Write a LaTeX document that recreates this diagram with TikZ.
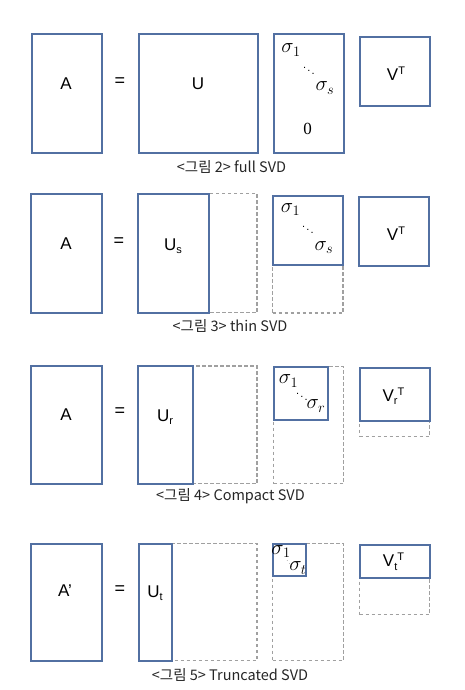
\documentclass[tikz,border=0pt]{standalone}
\usepackage{fontspec}
\setmainfont{Liberation Sans}
\newfontfamily\krfont{Noto Sans CJK KR}
\newfontfamily\serifnum{Liberation Serif}
\usetikzlibrary{fit}
\definecolor{boxblue}{RGB}{82,112,162}
\definecolor{dashgray}{RGB}{160,160,160}
\newcommand{\smallidx}[1]{{\fontsize{11}{11}\selectfont #1}}
\tikzset{
  solidbox/.style={draw=boxblue, line width=2pt, inner sep=0pt, fill=none},
  dashbox/.style={draw=dashgray, line width=1.2pt, dash pattern=on 3.5pt off 2.5pt, inner sep=0pt},
  lbl/.style={font=\fontsize{17}{19}\selectfont, inner sep=0pt},
  sig/.style={font=\fontsize{21.5}{23}\selectfont, inner sep=0pt},
  sigsm/.style={font=\fontsize{19.5}{21}\selectfont, inner sep=0pt},
  dts/.style={font=\fontsize{11}{11}\selectfont, inner sep=0pt},
  eqs/.style={font=\fontsize{18}{20}\selectfont, inner sep=0pt},
  captxt/.style={font=\krfont\fontsize{14.5}{16}\selectfont, inner sep=0pt, text=black!85},
}
\begin{document}
\begin{tikzpicture}[x=1pt,y=-1pt]
\useasboundingbox (0,0) rectangle (465,690);
% ---------- Row 1: full SVD
\node[solidbox, fit={(31.5,34.5) (101.5,152.5)}] (A1) {};
\node[solidbox, fit={(139,34.5) (257.5,152.5)}] (U1) {};
\node[solidbox, fit={(273.5,34.5) (344,152.5)}] (S1) {};
\node[solidbox, fit={(359.5,37) (429.5,106.5)}] (V1) {};
\node[lbl] (tA1) at (66,84) {A};
\node[eqs] (eq1) at (120,82) {=};
\node[lbl] (tU1) at (198,84) {U};
\node[sig] (s11) at (291,50) {$\sigma_1$};
\node[dts] (d1) at (309,68) {$\ddots$};
\node[sig] (s1s) at (325,88) {$\sigma_s$};
\node[font=\serifnum\fontsize{17}{19}\selectfont, inner sep=0pt] (z1) at (307.5,129) {0};
\node[lbl] (tV1) at (396,74) {V\raisebox{6pt}{\smallidx{T}}};
\node[captxt] (c1) at (231.5,166.5) {<그림 2> full SVD};
% ---------- Row 2: thin SVD
\node[solidbox, fit={(31,193.5) (101.5,312.5)}] (A2) {};
\node[dashbox, fit={(138,193.5) (257,312.5)}] (U2d) {};
\node[solidbox, fit={(138,193.5) (208.5,312.5)}] (U2) {};
\node[dashbox, fit={(272.5,195.5) (343,313)}] (S2d) {};
\node[solidbox, fit={(272.5,195.5) (343,265)}] (S2) {};
\node[solidbox, fit={(358.5,196.5) (429,266)}] (V2) {};
\node[lbl] (tA2) at (66,244) {A};
\node[eqs] (eq2) at (119,242) {=};
\node[lbl] (tU2) at (173,246) {U\raisebox{-3pt}{\smallidx{s}}};
\node[sig] (s21) at (290.5,209.5) {$\sigma_1$};
\node[dts] (d2) at (308,227) {$\ddots$};
\node[sig] (s2s) at (324,247.5) {$\sigma_s$};
\node[lbl] (tV2) at (396,234) {V\raisebox{6pt}{\smallidx{T}}};
\node[captxt] (c2) at (230,326) {<그림 3> thin SVD};
% ---------- Row 3: Compact SVD
\node[solidbox, fit={(31,366) (101.5,483.5)}] (A3) {};
\node[dashbox, fit={(138,366) (257,483.5)}] (U3d) {};
\node[solidbox, fit={(138,366) (192.5,483.5)}] (U3) {};
\node[dashbox, fit={(273.5,366.5) (343.5,483.5)}] (S3d) {};
\node[solidbox, fit={(273.5,366.5) (327.5,419.5)}] (S3) {};
\node[dashbox, fit={(359.5,368) (429.5,436.5)}] (V3d) {};
\node[solidbox, fit={(359.5,368) (429.5,421)}] (V3) {};
\node[lbl] (tA3) at (66,415) {A};
\node[eqs] (eq3) at (120,412) {=};
\node[lbl] (tU3) at (165,417) {U\raisebox{-3.5pt}{\smallidx{r}}};
\node[sig] (s31) at (288.5,381) {$\sigma_1$};
\node[dts] (d3) at (302,394) {$\ddots$};
\node[sig] (s3r) at (316,406) {$\sigma_r$};
\node[lbl] (tV3) at (393.5,396) {V\raisebox{-3.5pt}{\smallidx{r}}\raisebox{6pt}{\smallidx{T}}};
\node[captxt] (c3) at (230.5,496) {<그림 4> Compact SVD};
% ---------- Row 4: Truncated SVD
\node[solidbox, fit={(31,543.5) (101.5,660.5)}] (A4) {};
\node[dashbox, fit={(138.5,543.5) (257,660.5)}] (U4d) {};
\node[solidbox, fit={(138.5,543.5) (171.5,660.5)}] (U4) {};
\node[dashbox, fit={(272.5,543.5) (343.5,660.5)}] (S4d) {};
\node[solidbox, fit={(272.5,543.5) (306,576)}] (S4) {};
\node[dashbox, fit={(359.5,545) (429.5,614.5)}] (V4d) {};
\node[solidbox, fit={(359.5,545) (429.5,577.5)}] (V4) {};
\node[lbl] (tA4) at (65,591) {A’};
\node[eqs] (eq4) at (120,590) {=};
\node[lbl] (tU4) at (155,593) {U\raisebox{-3.5pt}{\smallidx{t}}};
\node[sigsm] (s41) at (281,551.5) {$\sigma_1$};
\node[font=\fontsize{5}{5}\selectfont, inner sep=0pt] (d4) at (289.5,561.5) {$\ddots$};
\node[sigsm] (s4t) at (298,568) {$\sigma_t$};
\node[lbl] (tV4) at (393.5,562) {V\raisebox{-3.5pt}{\smallidx{t}}\raisebox{6pt}{\smallidx{T}}};
\node[captxt] (c4) at (230,674.5) {<그림 5> Truncated SVD};
\end{tikzpicture}
\end{document}
